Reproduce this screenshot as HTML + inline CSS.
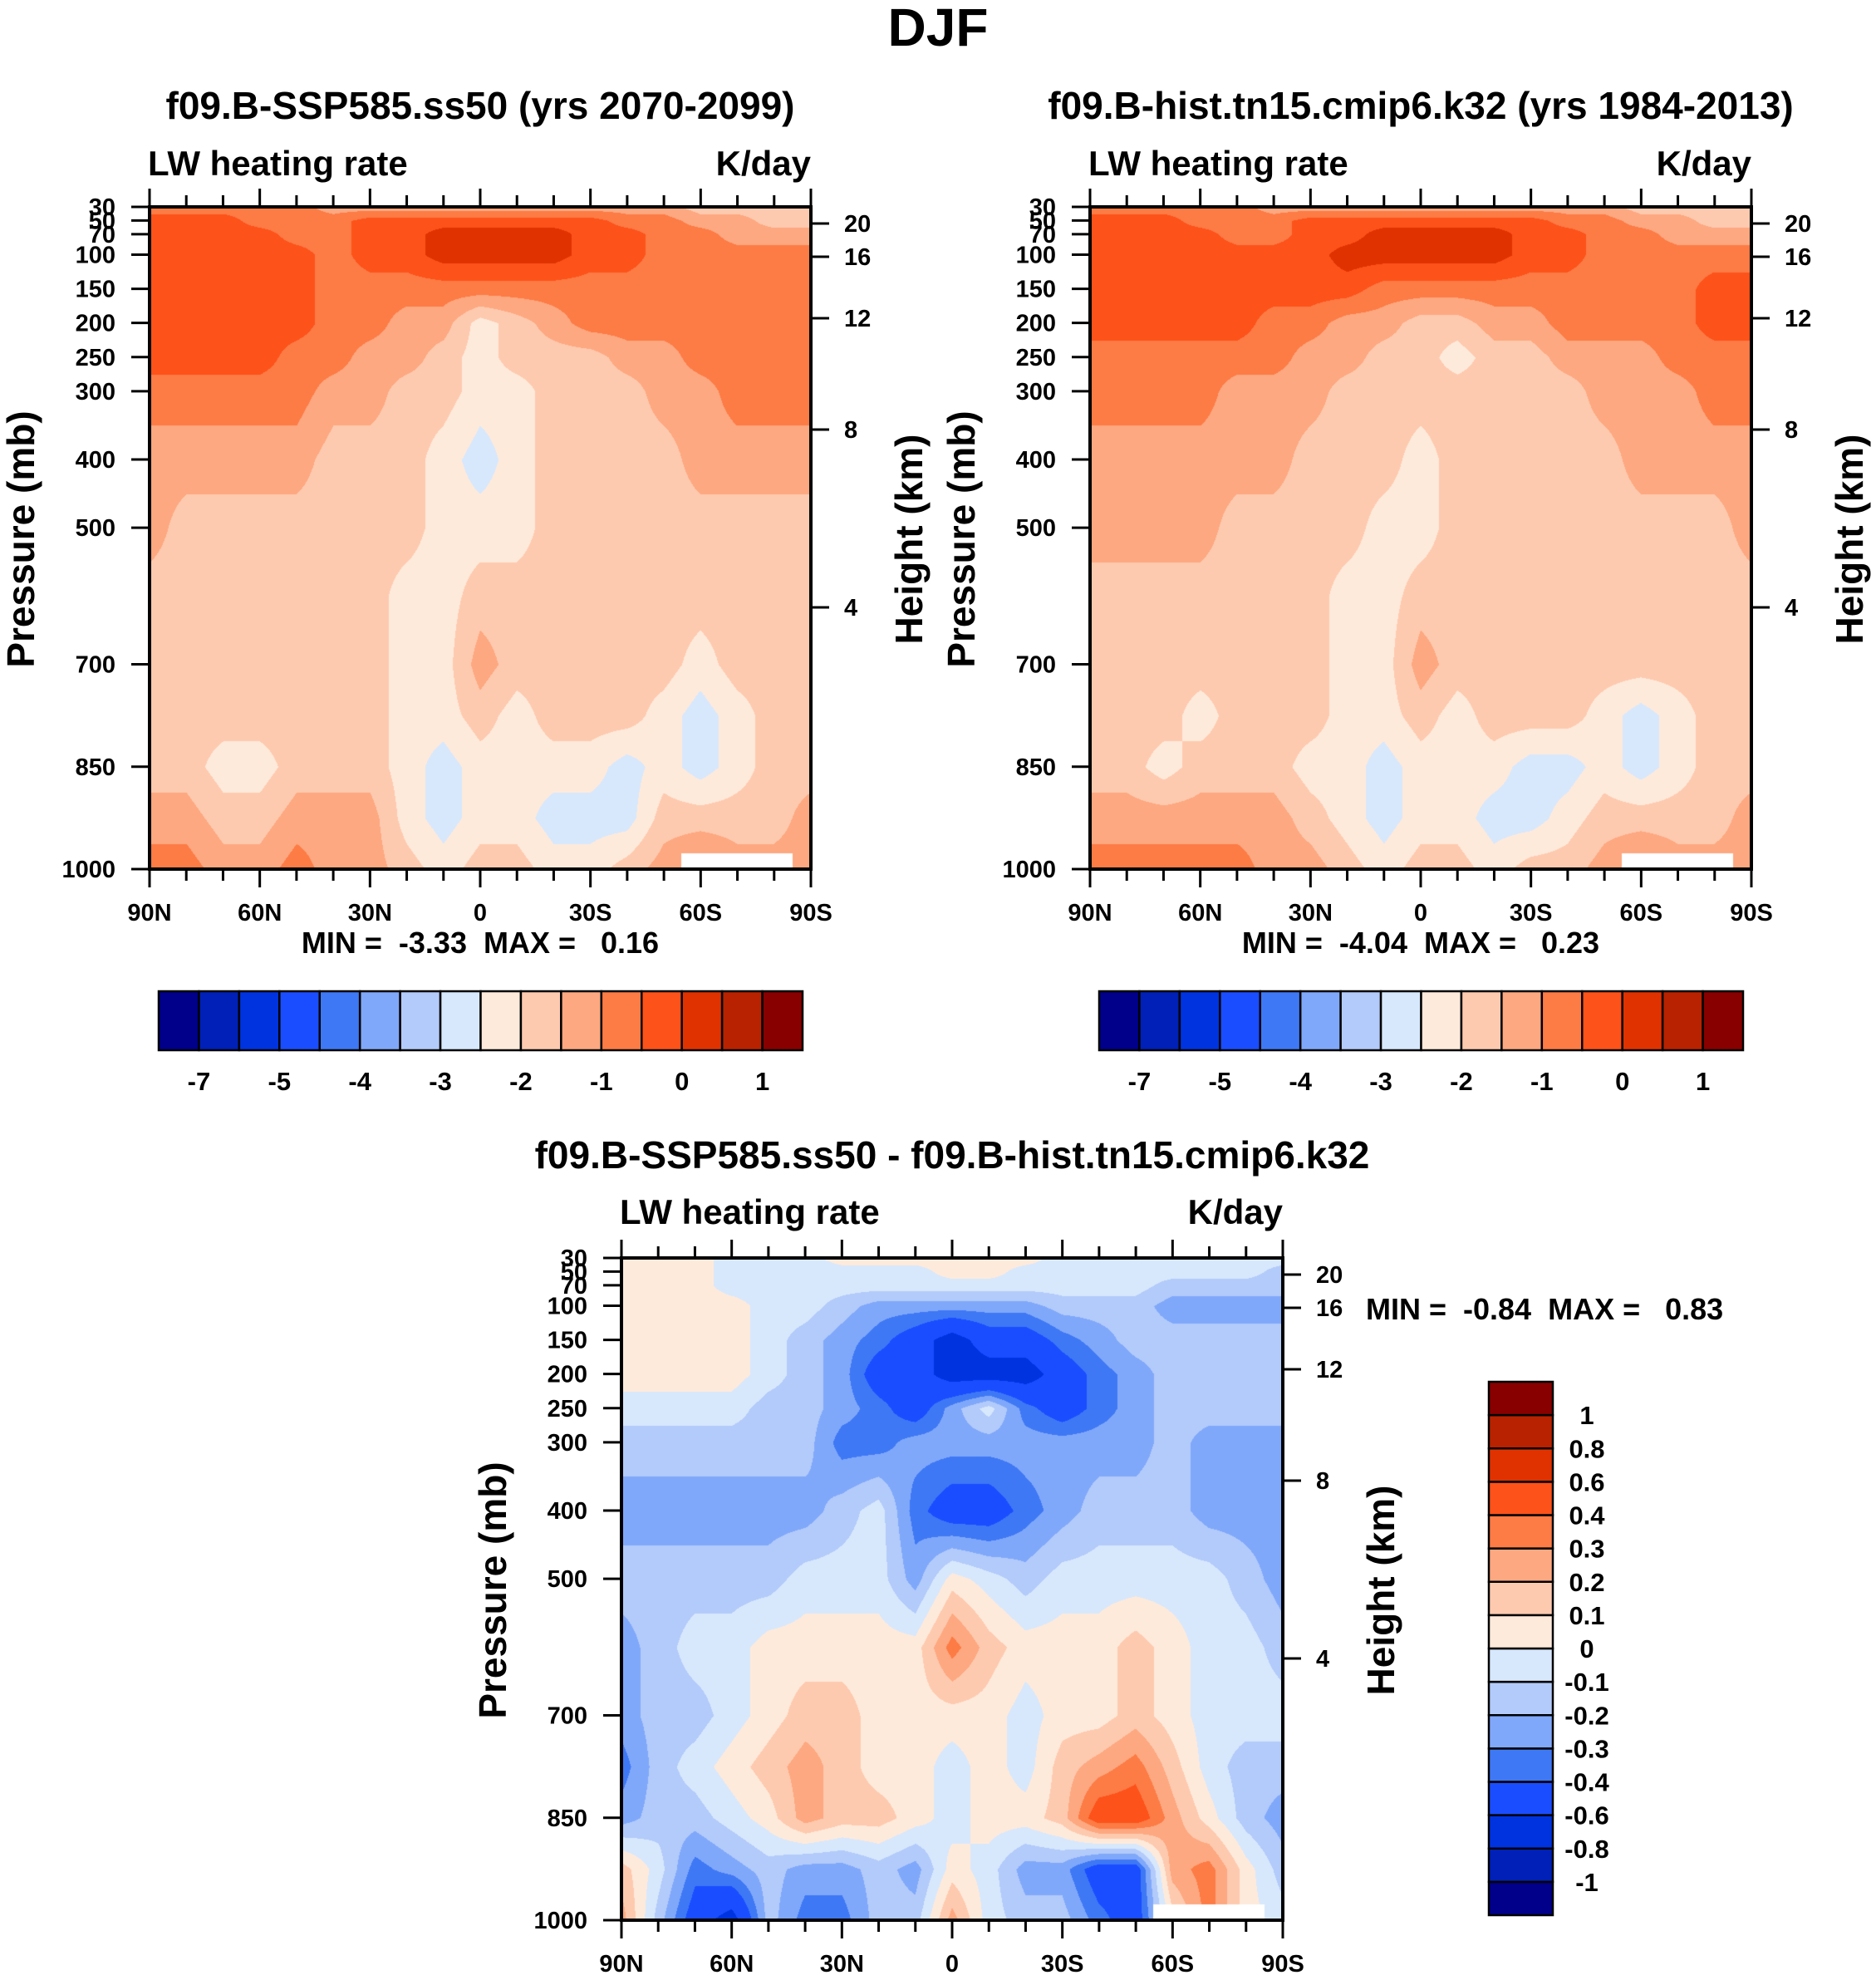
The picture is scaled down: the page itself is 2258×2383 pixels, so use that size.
<!DOCTYPE html>
<html><head><meta charset="utf-8">
<style>
html,body{margin:0;padding:0;background:#fff;}
body{width:2258px;height:2383px;position:relative;overflow:hidden;font-family:"Liberation Sans",Arial,sans-serif;font-weight:bold;color:#000;}
.t{position:absolute;white-space:nowrap;}
canvas{position:absolute;}
svg{position:absolute;left:0;top:0;}
</style></head><body>
<div class="t" style="left:0;width:2258px;text-align:center;top:-4px;font-size:64px;">DJF</div>

<div class="t" style="left:78px;width:1000px;text-align:center;top:100px;font-size:46px;">f09.B-SSP585.ss50 (yrs 2070-2099)</div>
<div class="t" style="left:178px;top:173px;font-size:42px;">LW heating rate</div>
<div class="t" style="left:676px;width:300px;text-align:right;top:173px;font-size:42px;">K/day</div>
<div class="t" style="left:178px;width:800px;text-align:center;top:1114px;font-size:36px;white-space:pre;">MIN =  -3.33  MAX =   0.16</div>

<div class="t" style="left:1110px;width:1200px;text-align:center;top:100px;font-size:46px;">f09.B-hist.tn15.cmip6.k32 (yrs 1984-2013)</div>
<div class="t" style="left:1310px;top:173px;font-size:42px;">LW heating rate</div>
<div class="t" style="left:1808px;width:300px;text-align:right;top:173px;font-size:42px;">K/day</div>
<div class="t" style="left:1310px;width:800px;text-align:center;top:1114px;font-size:36px;white-space:pre;">MIN =  -4.04  MAX =   0.23</div>

<div class="t" style="left:546px;width:1200px;text-align:center;top:1363px;font-size:46px;">f09.B-SSP585.ss50 - f09.B-hist.tn15.cmip6.k32</div>
<div class="t" style="left:746px;top:1435px;font-size:42px;">LW heating rate</div>
<div class="t" style="left:1244px;width:300px;text-align:right;top:1435px;font-size:42px;">K/day</div>
<div class="t" style="left:1644px;top:1555px;font-size:36px;white-space:pre;">MIN =  -0.84  MAX =   0.83</div>

<canvas id="c1" width="796" height="797" style="left:180px;top:249px;"></canvas>
<canvas id="c2" width="796" height="797" style="left:1312px;top:249px;"></canvas>
<canvas id="c3" width="796" height="797" style="left:748px;top:1514px;"></canvas>
<svg id="ov" width="2258" height="2383"></svg>

<script>
// ---- data ----
const latLabels = ['90N','60N','30N','0','30S','60S','90S'];
const presLevels = [30,50,70,100,150,200,250,300,400,500,600,700,775,850,925,1000];
const presTicks = [30,50,70,100,150,200,250,300,400,500,700,850,1000];
const heightTicks = [20,16,12,8,4];
const heightOffsets = [20,60,134,268,482];
const colors = ['#00008a','#0020b8','#0033e0','#1a4dff','#3f78f5','#80a8fa','#b3cbfa','#d7e8fd','#feeadb','#fecaaf','#fda880','#fd7b45','#fd5219','#e03200','#b82200','#880000'];
const levelsAbs = [-7,-6,-5,-4.5,-4,-3.5,-3,-2.5,-2,-1.5,-1,-0.5,0,0.5,1];
const labelsAbs = ['-7','','-5','','-4','','-3','','-2','','-1','','0','','1'];
const levelsDiff = [-1,-0.8,-0.6,-0.4,-0.3,-0.2,-0.1,0,0.1,0.2,0.3,0.4,0.6,0.8,1];
const labelsDiff = ['-1','-0.8','-0.6','-0.4','-0.3','-0.2','-0.1','0','0.1','0.2','0.3','0.4','0.6','0.8','1'];

const field1 = [
[-0.75,-0.75,-0.75,-0.75,-0.75,-1.25,-1.25,-1.25,-1.25,-1.25,-1.25,-1.25,-1.25,-1.25,-1.25,-1.75,-1.75,-1.75,-1.75],
[-0.25,-0.25,-0.25,-0.75,-0.75,-0.75,-0.25,-0.25,-0.25,-0.25,-0.25,-0.25,-0.25,-0.75,-0.75,-1.25,-1.25,-1.75,-1.75],
[-0.25,-0.25,-0.25,-0.25,-0.75,-0.75,-0.25,-0.25,0.25,0.25,0.25,0.25,-0.25,-0.25,-0.75,-0.75,-1.25,-1.25,-1.25],
[-0.25,-0.25,-0.25,-0.25,-0.25,-0.75,-0.25,-0.25,0.25,0.25,0.25,0.25,-0.25,-0.25,-0.75,-0.75,-0.75,-0.75,-0.75],
[-0.25,-0.25,-0.25,-0.25,-0.25,-0.75,-0.75,-0.75,-0.75,-0.75,-0.75,-0.75,-0.75,-0.75,-0.75,-0.75,-0.75,-0.75,-0.75],
[-0.25,-0.25,-0.25,-0.25,-0.25,-0.75,-0.75,-1.25,-1.25,-2.25,-1.75,-1.25,-0.75,-0.75,-0.75,-0.75,-0.75,-0.75,-0.75],
[-0.25,-0.25,-0.25,-0.25,-0.75,-0.75,-1.25,-1.25,-1.75,-2.25,-1.75,-1.75,-1.75,-1.25,-1.25,-0.75,-0.75,-0.75,-0.75],
[-0.75,-0.75,-0.75,-0.75,-0.75,-1.25,-1.25,-1.75,-1.75,-2.25,-2.25,-1.75,-1.75,-1.75,-1.25,-1.25,-0.75,-0.75,-0.75],
[-1.25,-1.25,-1.25,-1.25,-1.25,-1.75,-1.75,-1.75,-2.25,-2.75,-2.25,-1.75,-1.75,-1.75,-1.75,-1.25,-1.25,-1.25,-1.25],
[-1.25,-1.75,-1.75,-1.75,-1.75,-1.75,-1.75,-1.75,-2.25,-2.25,-2.25,-1.75,-1.75,-1.75,-1.75,-1.75,-1.75,-1.75,-1.75],
[-1.75,-1.75,-1.75,-1.75,-1.75,-1.75,-1.75,-2.25,-2.25,-1.75,-1.75,-1.75,-1.75,-1.75,-1.75,-1.75,-1.75,-1.75,-1.75],
[-1.75,-1.75,-1.75,-1.75,-1.75,-1.75,-1.75,-2.25,-2.25,-1.25,-1.75,-1.75,-1.75,-1.75,-1.75,-2.25,-1.75,-1.75,-1.75],
[-1.75,-1.75,-1.75,-1.75,-1.75,-1.75,-1.75,-2.25,-2.25,-1.75,-2.25,-1.75,-1.75,-1.75,-2.25,-2.75,-2.25,-1.75,-1.75],
[-1.75,-1.75,-2.25,-2.25,-1.75,-1.75,-1.75,-2.25,-2.75,-2.25,-2.25,-2.25,-2.25,-2.75,-2.25,-2.75,-2.25,-1.75,-1.75],
[-1.25,-1.25,-1.75,-1.75,-1.25,-1.25,-1.25,-2.25,-2.75,-2.25,-2.25,-2.75,-2.75,-2.75,-1.75,-1.75,-1.75,-1.75,-1.25],
[-0.75,-0.75,-1.25,-1.25,-0.75,-1.25,-1.25,-1.75,-2.25,-1.75,-1.75,-2.25,-2.25,-1.75,-1.25,-0.75,-1.25,-1.25,-1.25]
];
const field2 = [
[-0.75,-0.75,-0.75,-0.75,-0.75,-1.25,-1.25,-1.25,-1.25,-1.25,-1.25,-1.25,-1.25,-1.25,-1.25,-1.75,-1.75,-1.75,-1.75],
[-0.25,-0.25,-0.25,-0.75,-0.75,-0.75,-0.25,-0.25,-0.25,-0.25,-0.25,-0.25,-0.25,-0.75,-0.75,-1.25,-1.25,-1.75,-1.75],
[-0.25,-0.25,-0.25,-0.25,-0.75,-0.75,-0.25,-0.25,0.25,0.25,0.25,0.25,-0.25,-0.25,-0.75,-0.75,-1.25,-1.25,-1.25],
[-0.25,-0.25,-0.25,-0.25,-0.25,-0.25,-0.25,0.25,0.25,0.25,0.25,0.25,-0.25,-0.25,-0.75,-0.75,-0.75,-0.75,-0.75],
[-0.25,-0.25,-0.25,-0.25,-0.25,-0.25,-0.25,-0.25,-0.75,-0.75,-0.75,-0.75,-0.75,-0.75,-0.75,-0.75,-0.75,-0.25,-0.25],
[-0.25,-0.25,-0.25,-0.25,-0.25,-0.75,-0.75,-1.25,-1.25,-1.75,-1.75,-1.25,-1.25,-0.75,-0.75,-0.75,-0.75,-0.25,-0.25],
[-0.75,-0.75,-0.75,-0.75,-0.75,-0.75,-1.25,-1.25,-1.75,-1.75,-2.25,-1.75,-1.75,-1.25,-1.25,-1.25,-0.75,-0.75,-0.75],
[-0.75,-0.75,-0.75,-0.75,-1.25,-1.25,-1.25,-1.75,-1.75,-1.75,-1.75,-1.75,-1.75,-1.75,-1.25,-1.25,-1.25,-0.75,-0.75],
[-1.25,-1.25,-1.25,-1.25,-1.25,-1.25,-1.75,-1.75,-1.75,-2.25,-1.75,-1.75,-1.75,-1.75,-1.75,-1.25,-1.25,-1.25,-1.25],
[-1.25,-1.25,-1.25,-1.25,-1.75,-1.75,-1.75,-1.75,-2.25,-2.25,-1.75,-1.75,-1.75,-1.75,-1.75,-1.75,-1.75,-1.75,-1.25],
[-1.75,-1.75,-1.75,-1.75,-1.75,-1.75,-1.75,-2.25,-2.25,-1.75,-1.75,-1.75,-1.75,-1.75,-1.75,-1.75,-1.75,-1.75,-1.75],
[-1.75,-1.75,-1.75,-1.75,-1.75,-1.75,-1.75,-2.25,-2.25,-1.25,-1.75,-1.75,-1.75,-1.75,-1.75,-1.75,-1.75,-1.75,-1.75],
[-1.75,-1.75,-1.75,-2.25,-1.75,-1.75,-1.75,-2.25,-2.25,-1.75,-2.25,-1.75,-1.75,-1.75,-2.25,-2.75,-2.25,-1.75,-1.75],
[-1.75,-1.75,-2.25,-1.75,-1.75,-1.75,-2.25,-2.25,-2.75,-2.25,-2.25,-2.25,-2.75,-2.75,-2.25,-2.75,-2.25,-1.75,-1.75],
[-1.25,-1.25,-1.25,-1.25,-1.25,-1.25,-1.75,-2.25,-2.75,-2.25,-2.25,-2.75,-2.75,-2.25,-1.75,-1.75,-1.75,-1.75,-1.25],
[-0.75,-0.75,-0.75,-0.75,-0.75,-1.25,-1.25,-1.75,-2.25,-1.75,-1.75,-2.25,-1.75,-1.75,-1.25,-0.75,-1.25,-1.25,-1.25]
];
const fieldDiff = [
[0.05,0.05,0.05,-0.05,-0.05,-0.05,0.05,0.05,0.05,0.05,0.05,0.05,-0.05,-0.05,-0.05,-0.05,-0.05,-0.05,-0.05],
[0.05,0.05,0.05,-0.05,-0.05,-0.05,-0.05,-0.05,-0.05,0.05,0.05,-0.05,-0.05,-0.05,-0.05,-0.05,-0.05,-0.05,-0.15],
[0.05,0.05,0.05,-0.05,-0.05,-0.05,-0.05,-0.05,-0.05,-0.05,-0.05,-0.05,-0.05,-0.05,-0.05,-0.15,-0.15,-0.15,-0.15],
[0.05,0.05,0.05,0.05,-0.05,-0.05,-0.15,-0.25,-0.25,-0.25,-0.25,-0.25,-0.15,-0.15,-0.15,-0.25,-0.25,-0.25,-0.25],
[0.05,0.05,0.05,0.05,-0.05,-0.15,-0.25,-0.35,-0.5,-0.7,-0.5,-0.5,-0.35,-0.25,-0.15,-0.15,-0.15,-0.15,-0.15],
[0.05,0.05,0.05,0.05,-0.05,-0.15,-0.25,-0.5,-0.5,-0.7,-0.7,-0.7,-0.5,-0.35,-0.25,-0.15,-0.15,-0.15,-0.15],
[-0.05,-0.05,-0.05,-0.05,-0.15,-0.15,-0.25,-0.35,-0.5,-0.25,-0.05,-0.35,-0.5,-0.35,-0.25,-0.15,-0.15,-0.15,-0.15],
[-0.15,-0.15,-0.15,-0.15,-0.15,-0.15,-0.35,-0.35,-0.25,-0.25,-0.25,-0.25,-0.25,-0.25,-0.25,-0.15,-0.25,-0.25,-0.25],
[-0.25,-0.25,-0.25,-0.25,-0.25,-0.25,-0.15,-0.05,-0.35,-0.5,-0.5,-0.35,-0.25,-0.15,-0.15,-0.15,-0.25,-0.25,-0.25],
[-0.15,-0.15,-0.15,-0.15,-0.15,-0.05,-0.05,-0.05,-0.25,0.05,-0.05,-0.15,-0.05,-0.05,-0.05,-0.05,-0.05,-0.15,-0.25],
[-0.25,-0.15,-0.05,-0.05,0.05,0.05,0.05,0.05,0.05,0.35,0.15,0.05,0.05,0.05,0.15,0.05,-0.05,-0.05,-0.15],
[-0.25,-0.15,-0.15,-0.05,0.05,0.15,0.15,0.05,0.05,0.05,0.05,-0.05,0.05,0.05,0.15,0.05,-0.05,-0.05,-0.05],
[-0.35,-0.15,-0.05,0.05,0.15,0.25,0.15,0.05,0.05,-0.05,0.05,-0.05,0.15,0.25,0.35,0.15,-0.05,-0.15,-0.15],
[-0.25,-0.15,-0.15,-0.05,0.05,0.25,0.15,0.15,0.05,-0.05,0.05,0.05,0.15,0.5,0.5,0.25,0.05,-0.15,-0.25],
[0.15,-0.05,-0.35,-0.25,-0.15,-0.25,-0.25,-0.15,-0.25,0.05,-0.05,-0.25,-0.25,-0.5,-0.5,0.25,0.35,0.05,-0.15],
[0.25,-0.15,-0.5,-0.7,-0.15,-0.35,-0.35,-0.15,-0.15,0.25,-0.05,-0.15,-0.15,-0.35,-0.5,0.05,0.35,0.05,-0.05]
];

// ---- rendering ----
const W=796,H=797;
const FF='Liberation Sans, sans-serif';
function pToY(p){return (p-30)/970*H;}
function colorFor(v,levels){let k=0;while(k<levels.length&&v>=levels[k])k++;return colors[k];}
function hex(c){return [parseInt(c.substr(1,2),16),parseInt(c.substr(3,2),16),parseInt(c.substr(5,2),16)];}
function drawField(id,field,levels){
  const cv=document.getElementById(id),ctx=cv.getContext('2d');
  const img=ctx.createImageData(W,H);const nc=field[0].length;
  const rgbCache={};
  for(let y=0;y<H;y++){
    const p=30+y/H*970;let r=0;while(r<presLevels.length-2&&p>presLevels[r+1])r++;
    const ty=Math.min(1,Math.max(0,(p-presLevels[r])/(presLevels[r+1]-presLevels[r])));
    for(let x=0;x<W;x++){
      const fx=x/(W-1)*(nc-1);let c=Math.min(nc-2,Math.floor(fx));const tx=fx-c;
      const v=(field[r][c]*(1-tx)+field[r][c+1]*tx)*(1-ty)+(field[r+1][c]*(1-tx)+field[r+1][c+1]*tx)*ty;
      const col=colorFor(v,levels);const rgb=rgbCache[col]||(rgbCache[col]=hex(col));
      const i=(y*W+x)*4;img.data[i]=rgb[0];img.data[i+1]=rgb[1];img.data[i+2]=rgb[2];img.data[i+3]=255;
    }
  }
  ctx.putImageData(img,0,0);
  ctx.fillStyle='#fff';ctx.fillRect(640,778,134,19);
}
drawField('c1',field1,levelsAbs);
drawField('c2',field2,levelsAbs);
drawField('c3',fieldDiff,levelsDiff);

const NS='http://www.w3.org/2000/svg',ov=document.getElementById('ov');
function el(tag,attrs,txt){const e=document.createElementNS(NS,tag);for(const k in attrs)e.setAttribute(k,attrs[k]);if(txt!==undefined)e.textContent=txt;ov.appendChild(e);return e;}
function axes(x0,y0,pre){
  const fr=el('rect',{x:x0,y:y0,width:W,height:H,fill:'none',stroke:'#000','stroke-width':4});
  
  
  for(let i=0;i<=18;i++){
    const x=x0+i*W/18,major=i%3===0,len=major?22:14;
    el('line',{x1:x,y1:y0,x2:x,y2:y0-len,stroke:'#000','stroke-width':3});
    el('line',{x1:x,y1:y0+H,x2:x,y2:y0+H+len,stroke:'#000','stroke-width':3});
  }
  latLabels.forEach((l,i)=>{
    const t=el('text',{x:x0+i*W/6,y:y0+H+62,'text-anchor':'middle','font-size':29,'font-weight':'bold','font-family':FF},l);
    
    
  });
  presTicks.forEach(p=>{
    const y=y0+pToY(p);
    el('line',{x1:x0,y1:y,x2:x0-22,y2:y,stroke:'#000','stroke-width':3});
    const t=el('text',{x:x0-41,y:y+10,'text-anchor':'end','font-size':29,'font-weight':'bold','font-family':FF},String(p));
    
    
  });
  heightTicks.forEach((h,i)=>{
    const y=y0+heightOffsets[i];
    el('line',{x1:x0+W,y1:y,x2:x0+W+22,y2:y,stroke:'#000','stroke-width':3});
    const t=el('text',{x:x0+W+40,y:y+10,'font-size':29,'font-weight':'bold','font-family':FF},String(h));
    
    
  });
  const pl=el('text',{transform:`translate(${x0-139},${y0+400}) rotate(-90)`,'text-anchor':'middle','font-size':46,'font-weight':'bold','font-family':FF},'Pressure (mb)');
  
  
  const hl=el('text',{transform:`translate(${x0+W+134},${y0+400}) rotate(-90)`,'text-anchor':'middle','font-size':46,'font-weight':'bold','font-family':FF},'Height (km)');
  
  
}
axes(180,249,'plot1');axes(1312,249,'plot2');axes(748,1514,'diff');

function hbar(x0,y0,w,h,pre){
  const bw=w/colors.length;
  colors.forEach((c,i)=>{
    const r=el('rect',{x:x0+i*bw,y:y0,width:bw,height:h,fill:c,stroke:'#000','stroke-width':2.5});
    
    
  });
  labelsAbs.forEach((l,i)=>{if(!l)return;
    const t=el('text',{x:x0+(i+1)*bw,y:y0+h+48,'text-anchor':'middle','font-size':31,'font-weight':'bold','font-family':FF},l);
    
    
  });
}
hbar(191,1193,775,71,'plot1');hbar(1323,1193,775,71,'plot2');

(function(){
  const x0=1792,y0=1663,w=77,h=642,bh=h/colors.length;
  colors.forEach((c,i)=>{
    const r=el('rect',{x:x0,y:y0+h-(i+1)*bh,width:w,height:bh,fill:c,stroke:'#000','stroke-width':2.5});
    
    
  });
  labelsDiff.forEach((l,i)=>{
    const t=el('text',{x:1910,y:y0+h-(i+1)*bh+11,'text-anchor':'middle','font-size':31,'font-weight':'bold','font-family':FF},l);
    
    
  });
})();
</script>
</body></html>
